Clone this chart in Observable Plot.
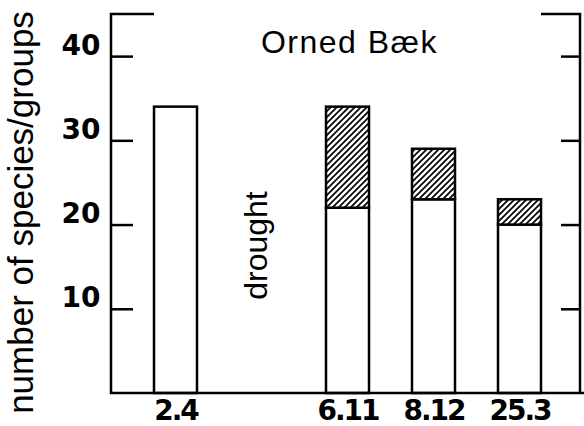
<!DOCTYPE html>
<html><head><meta charset="utf-8">
<script src="https://cdn.jsdelivr.net/npm/d3@7"></script>
<script src="https://cdn.jsdelivr.net/npm/@observablehq/plot@0.6"></script>
<style>
html,body{margin:0;padding:0;background:#fff;}
g[aria-label="x-axis tick label"] text{letter-spacing:-2px;}
</style></head><body><div id="chart"></div>
<script>
const categories = ["2.4", "drought", "6.11", "8.12", "25.3"];
const dates = ["2.4", "6.11", "8.12", "25.3"];
const whiteCounts = [34, 22, 23, 20];
const totalCounts = [34, 34, 29, 23];
const yTicks = [10, 20, 30, 40];
const title = "Orned Bæk";
const yLabel = "number of species/groups";
const gapLabel = "drought";

const rows = dates.map((d, i) => ({date: d, white: whiteCounts[i], total: totalCounts[i]}));

const chart = Plot.plot({
  width: 584, height: 426,
  marginLeft: 111, marginRight: 4, marginTop: 14, marginBottom: 33,
  style: {background: "white", fontFamily: "Liberation Sans, Arial, sans-serif", color: "black"},
  x: {type: "band", domain: categories, range: [110.5, 583.5], padding: 0.5},
  y: {domain: [0, 45]},
  marks: [
    Plot.barY(rows, {x: "date", y: "white", fill: "white", stroke: "black", strokeWidth: 2.5}),
    Plot.barY(rows.filter(d => d.total > d.white), {x: "date", y1: "white", y2: "total", fill: "url(#hatch)", stroke: "black", strokeWidth: 2.5}),
    Plot.axisY({ticks: yTicks, tickSize: -22, strokeWidth: 2.5, tickFormat: () => "", label: null}),
    Plot.axisY({ticks: yTicks, tickSize: 0, tickPadding: 11, dy: -11, fontSize: 28, fontWeight: "bold", fontFamily: "DejaVu Sans", label: null}),
    Plot.axisY({anchor: "right", ticks: yTicks, tickSize: -20, strokeWidth: 2.5, tickFormat: () => "", label: null}),
    Plot.axisX({ticks: dates, tickSize: 0, tickPadding: 7, fontSize: 28, fontWeight: "bold", fontFamily: "DejaVu Sans", label: null}),
    Plot.text([title], {frameAnchor: "top", dx: 3.5, dy: 16, fontSize: 32, fontFamily: "Liberation Sans"}),
    Plot.text([yLabel], {frameAnchor: "left", textAnchor: "middle", rotate: -90, dx: -90, dy: 8.5, fontSize: 35, fontFamily: "Liberation Sans"}),
    Plot.text([gapLabel], {x: d => d, frameAnchor: "middle", rotate: -90, dx: -5, dy: 41.5, fontSize: 32, fontFamily: "Liberation Sans"})
  ]
});

const svg = d3.select(chart);
const pat = svg.insert("defs", ":first-child").append("pattern")
  .attr("id", "hatch").attr("patternUnits", "userSpaceOnUse")
  .attr("width", 6).attr("height", 6);
pat.append("rect").attr("width", 6).attr("height", 6).attr("fill", "white");
pat.append("path").attr("d", "M-1,1 l2,-2 M0,6 l6,-6 M5,7 l2,-2")
  .attr("stroke", "black").attr("stroke-width", 1.7);

svg.selectAll("text").filter(function() { return this.textContent === title; })
  .style("letter-spacing", "1.5px");

const xs = chart.scale("x"), ys = chart.scale("y");
const frameLeft = 111, frameRight = 580;
const frameTop = ys.apply(45), frameBottom = ys.apply(0);
const firstLeft = xs.apply(dates[0]);
const lastRight = xs.apply(dates[dates.length - 1]) + xs.bandwidth;
svg.append("path")
  .attr("d", `M${firstLeft},${frameTop}H${frameLeft}V${frameBottom}H584M${lastRight},${frameTop}H${frameRight}V${frameBottom}`)
  .attr("fill", "none").attr("stroke", "black").attr("stroke-width", 2.5);

document.getElementById("chart").appendChild(chart);
</script></body></html>
